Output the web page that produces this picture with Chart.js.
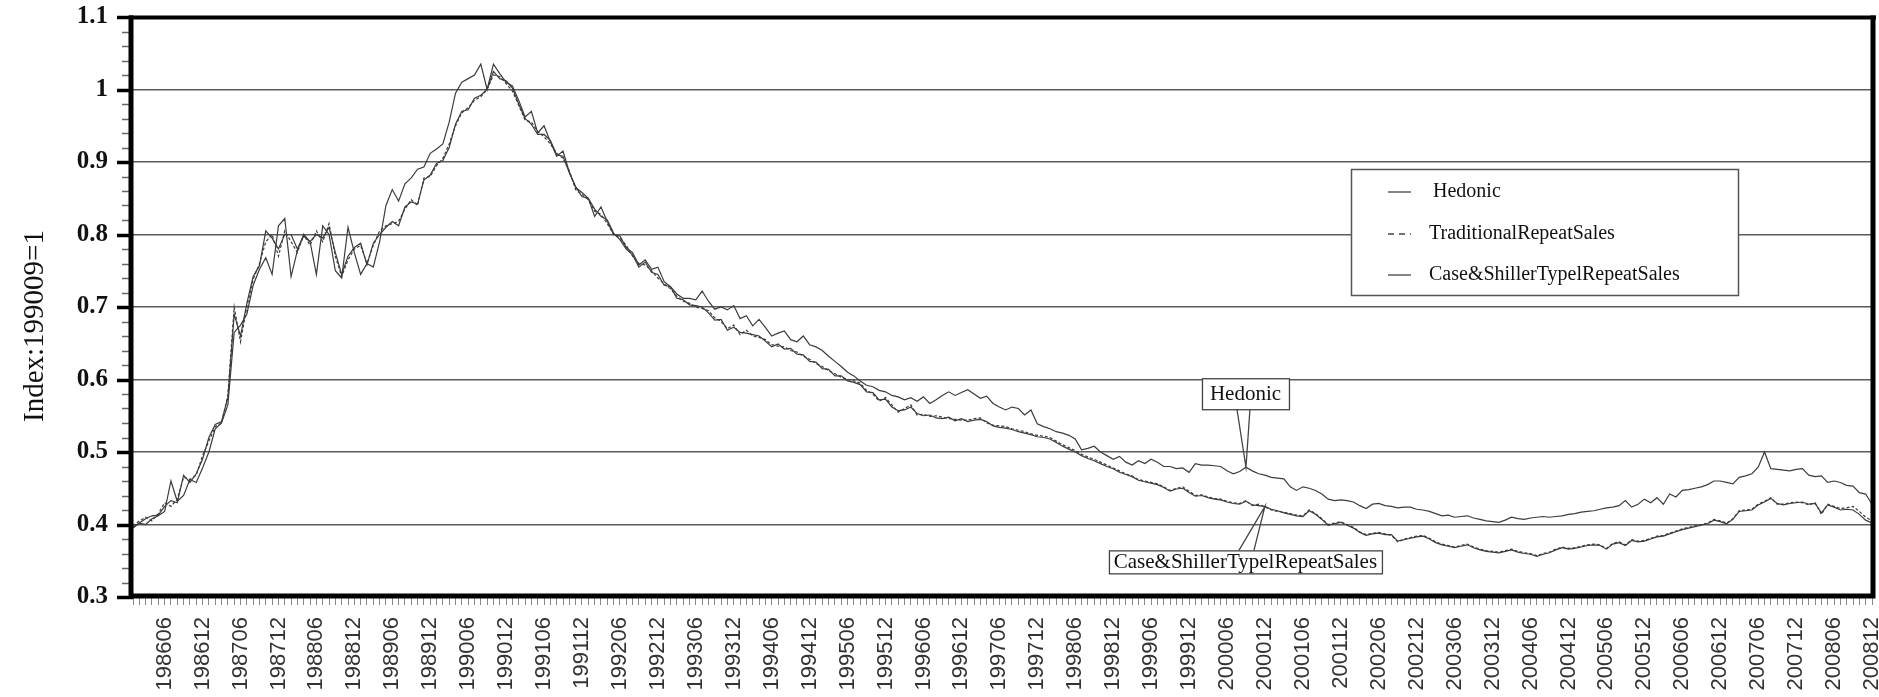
<!DOCTYPE html>
<html>
<head>
<meta charset="utf-8">
<script src="https://cdn.jsdelivr.net/npm/chart.js@4.4.1/dist/chart.umd.min.js"></script>
<style>
  html, body { margin: 0; padding: 0; background: #fff; }
</style>
</head>
<body>
<canvas id="graph" width="1879" height="697"></canvas>
<script>
// monthly index, 198601 .. 200812 (one row per year)
const startYear = 1986;
const endYear = 2008;

const hedonic = [
  0.395, 0.402, 0.400, 0.408, 0.412, 0.418, 0.460, 0.432, 0.440, 0.462, 0.458, 0.478,
  0.500, 0.532, 0.540, 0.565, 0.665, 0.675, 0.690, 0.730, 0.752, 0.768, 0.745, 0.812,
  0.822, 0.742, 0.778, 0.800, 0.790, 0.745, 0.812, 0.800, 0.750, 0.740, 0.810, 0.775,
  0.745, 0.760, 0.755, 0.790, 0.840, 0.862, 0.846, 0.870, 0.878, 0.890, 0.893, 0.912,
  0.918, 0.925, 0.955, 0.995, 1.010, 1.015, 1.020, 1.035, 1.000, 1.035, 1.022, 1.010,
  1.005, 0.985, 0.962, 0.970, 0.940, 0.950, 0.928, 0.908, 0.915, 0.886, 0.865, 0.858,
  0.850, 0.825, 0.838, 0.818, 0.800, 0.798, 0.782, 0.775, 0.758, 0.765, 0.752, 0.755,
  0.735, 0.728, 0.718, 0.712, 0.712, 0.710, 0.722, 0.708, 0.697, 0.700, 0.696, 0.702,
  0.684, 0.688, 0.674, 0.683, 0.672, 0.660, 0.664, 0.667, 0.655, 0.652, 0.660, 0.648,
  0.645, 0.640, 0.632, 0.625, 0.618, 0.610, 0.605, 0.598, 0.592, 0.590, 0.585, 0.583,
  0.578, 0.576, 0.572, 0.575, 0.570, 0.576, 0.567, 0.572, 0.578, 0.583, 0.578, 0.582,
  0.586, 0.580, 0.574, 0.577, 0.567, 0.562, 0.558, 0.562, 0.560, 0.551, 0.558, 0.539,
  0.535, 0.532, 0.528, 0.526, 0.523, 0.518, 0.503, 0.505, 0.508, 0.500, 0.495, 0.490,
  0.494, 0.486, 0.482, 0.488, 0.484, 0.490, 0.486, 0.480, 0.480, 0.477, 0.478, 0.472,
  0.484, 0.482, 0.482, 0.481, 0.480, 0.474, 0.470, 0.473, 0.479, 0.474, 0.470, 0.468,
  0.465, 0.464, 0.463, 0.452, 0.447, 0.452, 0.450, 0.447, 0.442, 0.435, 0.433, 0.434,
  0.433, 0.431, 0.426, 0.422, 0.428, 0.429, 0.426, 0.425, 0.423, 0.424, 0.424, 0.421,
  0.420, 0.418, 0.415, 0.412, 0.413, 0.410, 0.411, 0.412, 0.409, 0.407, 0.405, 0.404,
  0.403, 0.406, 0.410, 0.408, 0.407, 0.409, 0.410, 0.411, 0.410, 0.411, 0.412, 0.414,
  0.415, 0.417, 0.418, 0.419, 0.421, 0.423, 0.424, 0.426, 0.433, 0.424, 0.428, 0.435,
  0.430, 0.437, 0.428, 0.442, 0.438, 0.447, 0.448, 0.450, 0.452, 0.455, 0.460, 0.460,
  0.458, 0.456, 0.465, 0.467, 0.470, 0.479, 0.500, 0.477, 0.476, 0.475, 0.474, 0.476,
  0.477, 0.468, 0.466, 0.467, 0.458, 0.460, 0.458, 0.454, 0.453, 0.444, 0.442, 0.428
];

const traditional = [
  0.398, 0.405, 0.410, 0.405, 0.415, 0.430, 0.425, 0.435, 0.465, 0.462, 0.468, 0.495,
  0.515, 0.535, 0.540, 0.578, 0.700, 0.652, 0.700, 0.738, 0.760, 0.790, 0.800, 0.770,
  0.805, 0.790, 0.775, 0.800, 0.785, 0.805, 0.790, 0.815, 0.770, 0.742, 0.765, 0.780,
  0.785, 0.760, 0.785, 0.805, 0.812, 0.815, 0.818, 0.835, 0.848, 0.840, 0.878, 0.880,
  0.895, 0.905, 0.925, 0.950, 0.968, 0.975, 0.985, 0.990, 1.000, 1.020, 1.018, 1.008,
  0.998, 0.978, 0.958, 0.955, 0.942, 0.935, 0.925, 0.912, 0.905, 0.888, 0.862, 0.855,
  0.848, 0.832, 0.828, 0.815, 0.800, 0.795, 0.785, 0.770, 0.760, 0.758, 0.750, 0.740,
  0.732, 0.725, 0.715, 0.708, 0.705, 0.700, 0.698, 0.695, 0.685, 0.680, 0.670, 0.675,
  0.662, 0.668, 0.660, 0.658, 0.655, 0.648, 0.646, 0.645, 0.640, 0.638, 0.632, 0.628,
  0.622, 0.618, 0.612, 0.608, 0.603, 0.600, 0.598, 0.595, 0.585, 0.580, 0.570, 0.575,
  0.565, 0.555, 0.560, 0.565, 0.551, 0.552, 0.549, 0.550, 0.548, 0.546, 0.545, 0.544,
  0.544, 0.546, 0.547, 0.540, 0.537, 0.536, 0.535, 0.532, 0.530, 0.528, 0.525, 0.523,
  0.522, 0.520, 0.515, 0.510, 0.506, 0.502, 0.497, 0.493, 0.490, 0.486, 0.482, 0.478,
  0.474, 0.470, 0.467, 0.462, 0.460, 0.458, 0.456, 0.452, 0.447, 0.450, 0.452, 0.446,
  0.440, 0.441, 0.438, 0.436, 0.435, 0.432, 0.430, 0.429, 0.433, 0.426, 0.428, 0.424,
  0.420, 0.418, 0.417, 0.415, 0.413, 0.412, 0.420, 0.415, 0.408, 0.400, 0.402, 0.404,
  0.400, 0.396, 0.390, 0.386, 0.388, 0.389, 0.387, 0.385, 0.376, 0.380, 0.382, 0.384,
  0.385, 0.381, 0.376, 0.373, 0.371, 0.369, 0.371, 0.373, 0.369, 0.366, 0.364, 0.363,
  0.362, 0.364, 0.366, 0.363, 0.361, 0.360, 0.357, 0.360, 0.362, 0.366, 0.369, 0.367,
  0.368, 0.370, 0.372, 0.373, 0.372, 0.367, 0.374, 0.376, 0.372, 0.379, 0.377, 0.378,
  0.381, 0.384, 0.385, 0.388, 0.391, 0.394, 0.396, 0.398, 0.400, 0.402, 0.407, 0.405,
  0.402, 0.408, 0.419, 0.420, 0.421, 0.428, 0.432, 0.437, 0.428, 0.428, 0.430, 0.431,
  0.430, 0.427, 0.430, 0.414, 0.428, 0.425, 0.422, 0.423, 0.425, 0.418, 0.410, 0.405
];

const caseShiller = [
  0.396, 0.402, 0.408, 0.412, 0.413, 0.425, 0.433, 0.430, 0.468, 0.458, 0.470, 0.490,
  0.520, 0.538, 0.542, 0.575, 0.690, 0.660, 0.705, 0.742, 0.757, 0.805, 0.795, 0.780,
  0.800, 0.800, 0.780, 0.798, 0.790, 0.800, 0.795, 0.810, 0.775, 0.745, 0.770, 0.782,
  0.788, 0.758, 0.788, 0.800, 0.810, 0.818, 0.812, 0.838, 0.845, 0.842, 0.875, 0.882,
  0.898, 0.902, 0.920, 0.952, 0.970, 0.972, 0.988, 0.992, 1.000, 1.025, 1.015, 1.012,
  1.002, 0.980, 0.960, 0.952, 0.938, 0.938, 0.930, 0.910, 0.908, 0.885, 0.866, 0.852,
  0.850, 0.835, 0.825, 0.820, 0.802, 0.793, 0.780, 0.772, 0.755, 0.762, 0.748, 0.745,
  0.730, 0.728, 0.712, 0.710, 0.703, 0.702, 0.700, 0.692, 0.682, 0.683, 0.668, 0.672,
  0.665, 0.664, 0.662, 0.660, 0.653, 0.645, 0.649, 0.642, 0.643, 0.635, 0.634, 0.625,
  0.624, 0.615, 0.614, 0.605, 0.605, 0.598, 0.596, 0.593, 0.583, 0.582, 0.572, 0.573,
  0.562, 0.557, 0.558, 0.562, 0.553, 0.550, 0.551, 0.547, 0.546, 0.548, 0.543, 0.546,
  0.542, 0.544, 0.545, 0.542, 0.536, 0.534, 0.533, 0.531, 0.528, 0.526, 0.524, 0.521,
  0.520, 0.518, 0.513, 0.508, 0.504, 0.500, 0.495, 0.491, 0.488, 0.484, 0.480, 0.477,
  0.472, 0.469, 0.466, 0.461, 0.459, 0.457, 0.455, 0.451, 0.446, 0.449, 0.450, 0.444,
  0.439, 0.440, 0.437, 0.435, 0.434, 0.431, 0.429, 0.428, 0.432, 0.427, 0.426, 0.425,
  0.421, 0.419, 0.416, 0.414, 0.412, 0.411, 0.419, 0.414, 0.407, 0.399, 0.401, 0.403,
  0.399, 0.395, 0.389, 0.385, 0.387, 0.388, 0.386, 0.386, 0.377, 0.379, 0.381, 0.383,
  0.384, 0.380, 0.375, 0.372, 0.370, 0.368, 0.370, 0.372, 0.368, 0.365, 0.363, 0.362,
  0.361, 0.363, 0.365, 0.362, 0.360, 0.359, 0.356, 0.359, 0.361, 0.365, 0.368, 0.366,
  0.367, 0.369, 0.371, 0.372, 0.371, 0.366, 0.373, 0.375, 0.371, 0.378, 0.376, 0.377,
  0.380, 0.383, 0.384, 0.387, 0.390, 0.393, 0.395, 0.397, 0.399, 0.401, 0.406, 0.404,
  0.401, 0.407, 0.418, 0.419, 0.420, 0.427, 0.431, 0.436, 0.429, 0.427, 0.429, 0.430,
  0.431, 0.428, 0.429, 0.416, 0.427, 0.424, 0.420, 0.421, 0.420, 0.414, 0.406, 0.402
];

// labels printed under the x axis
const tickLabels = [
  '198606', '198612', '198706', '198712', '198806', '198812', '198906', '198912',
  '199006', '199012', '199106', '199112', '199206', '199212', '199306', '199312',
  '199406', '199412', '199506', '199512', '199606', '199612', '199706', '199712',
  '199806', '199812', '199906', '199912', '200006', '200012', '200106', '200112',
  '200206', '200212', '200306', '200312', '200406', '200412', '200506', '200512',
  '200606', '200612', '200706', '200712', '200806', '200812'
];

const seriesNames = ['Hedonic', 'TraditionalRepeatSales', 'Case&ShillerTypelRepeatSales'];

// callouts: series, month index the pointer hits
const callouts = [
  { text: 'Hedonic', series: 0, index: 176, dx: -44, dy: -89, w: 87, h: 31, b1: -9, b2: 4 },
  { text: 'Case&ShillerTypelRepeatSales', series: 2, index: 179, dx: -156, dy: 44, w: 273, h: 23, b1: -26, b2: -11 }
];

const months = [];
for (let y = startYear; y <= endYear; y++) {
  for (let m = 1; m <= 12; m++) {
    months.push(String(y) + (m < 10 ? '0' + m : m));
  }
}

const lineColor = '#3c3c3c';
const serif = '"Liberation Serif", "Times New Roman", serif';

const decorPlugin = {
  id: 'decor',
  afterDraw(chart) {
    const ctx = chart.ctx;
    const area = chart.chartArea;
    const yScale = chart.scales.y;
    const xScale = chart.scales.x;
    ctx.save();

    // y minor / major ticks
    for (let k = 0; k <= 40; k++) {
      const v = 0.3 + k * 0.02;
      const py = Math.round(yScale.getPixelForValue(v)) + 0.5;
      const major = k % 5 === 0;
      ctx.beginPath();
      ctx.strokeStyle = major ? '#000' : '#666';
      ctx.lineWidth = major ? 3.5 : 1.5;
      ctx.moveTo(major ? 117 : 122, py);
      ctx.lineTo(area.left, py);
      ctx.stroke();
    }

    // frame
    ctx.strokeStyle = '#000';
    ctx.lineWidth = 5;
    ctx.beginPath();
    ctx.moveTo(131, 15.5);
    ctx.lineTo(131, 596);
    ctx.lineTo(1873, 596);
    ctx.lineTo(1873, 15.5);
    ctx.stroke();
    ctx.lineWidth = 4;
    ctx.beginPath();
    ctx.moveTo(129, 17.5);
    ctx.lineTo(1876, 17.5);
    ctx.stroke();

    // y title
    ctx.save();
    ctx.translate(35, 326);
    ctx.rotate(-Math.PI / 2);
    ctx.font = '29px ' + serif;
    ctx.fillStyle = '#111';
    ctx.textAlign = 'center';
    ctx.textBaseline = 'middle';
    ctx.fillText('Index:199009=1', 0, 0);
    ctx.restore();

    // legend box
    const lx = 1351, ly = 169, lw = 387, lh = 126;
    ctx.fillStyle = '#fff';
    ctx.fillRect(lx, ly, lw, lh);
    ctx.strokeStyle = '#555';
    ctx.lineWidth = 1.5;
    ctx.strokeRect(lx + 0.5, ly + 0.5, lw, lh);
    ctx.font = '20px ' + serif;
    ctx.fillStyle = '#111';
    ctx.textAlign = 'left';
    ctx.textBaseline = 'middle';
    const rows = [192, 234, 275];
    chart.data.datasets.forEach((ds, i) => {
      ctx.beginPath();
      ctx.strokeStyle = '#444';
      ctx.lineWidth = 1.3;
      ctx.setLineDash(i === 1 ? [6, 5] : []);
      ctx.moveTo(1388, rows[i]);
      ctx.lineTo(1411, rows[i]);
      ctx.stroke();
      ctx.setLineDash([]);
      ctx.fillText(ds.label, i === 0 ? 1433 : 1429, rows[i]);
    });

    // callouts
    ctx.font = '21px ' + serif;
    callouts.forEach(c => {
      const tx = xScale.getPixelForValue(c.index);
      const ty = yScale.getPixelForValue(chart.data.datasets[c.series].data[c.index]);
      const bx = tx + c.dx, by = ty + c.dy;
      const baseY = c.dy < 0 ? by + c.h : by;
      ctx.fillStyle = '#fff';
      ctx.fillRect(bx, by, c.w, c.h);
      ctx.strokeStyle = '#444';
      ctx.lineWidth = 1.3;
      ctx.strokeRect(bx + 0.5, by + 0.5, c.w, c.h);
      ctx.beginPath();
      ctx.moveTo(tx + c.b1, baseY);
      ctx.lineTo(tx, ty);
      ctx.lineTo(tx + c.b2, baseY);
      ctx.stroke();
      ctx.fillStyle = '#111';
      ctx.textAlign = 'center';
      ctx.textBaseline = 'middle';
      ctx.fillText(c.text, bx + c.w / 2, by + c.h / 2 + 1);
    });

    ctx.restore();
  }
};

const ctx = document.getElementById('graph').getContext('2d');
new Chart(ctx, {
  type: 'line',
  data: {
    labels: months,
    datasets: [
      { label: seriesNames[0], data: hedonic, borderColor: lineColor, borderWidth: 1.2 },
      { label: seriesNames[1], data: traditional, borderColor: lineColor, borderWidth: 1.2, borderDash: [3, 2] },
      { label: seriesNames[2], data: caseShiller, borderColor: lineColor, borderWidth: 1.2 }
    ]
  },
  options: {
    responsive: false,
    animation: false,
    layout: { padding: { top: 17, right: 7, left: 0, bottom: 0 } },
    elements: { point: { radius: 0 }, line: { tension: 0, fill: false } },
    plugins: { legend: { display: false }, tooltip: { enabled: false } },
    scales: {
      x: {
        type: 'category',
        grid: { display: true, drawOnChartArea: false, drawTicks: true, tickLength: 8, color: '#888', lineWidth: 1 },
        border: { display: false },
        ticks: {
          autoSkip: false,
          minRotation: 90,
          maxRotation: 90,
          padding: 12,
          color: '#333',
          font: { family: '"Liberation Sans", Arial, sans-serif', size: 22 },
          callback: function(val) {
            const l = this.getLabelForValue(val);
            return tickLabels.includes(l) ? l : '';
          }
        },
        afterFit: s => {
          s.height = 100;
          s.paddingLeft = 0;
          s.paddingRight = 0;
        }
      },
      y: {
        min: 0.3,
        max: 1.1,
        grid: {
          drawTicks: false,
          lineWidth: 1.6,
          color: c => (c.tick && (Math.abs(c.tick.value - 0.3) < 1e-6 || Math.abs(c.tick.value - 1.1) < 1e-6)) ? 'rgba(0,0,0,0)' : '#5c5c5c'
        },
        border: { display: false },
        ticks: {
          stepSize: 0.1,
          padding: 25,
          color: '#111',
          font: { family: serif, size: 25, weight: 'bold' },
          callback: v => String(Number(v.toFixed(1)))
        },
        afterFit: s => {
          s.width = 133;
          s.paddingTop = 0;
          s.paddingBottom = 0;
        }
      }
    }
  },
  plugins: [decorPlugin]
});
</script>
</body>
</html>
